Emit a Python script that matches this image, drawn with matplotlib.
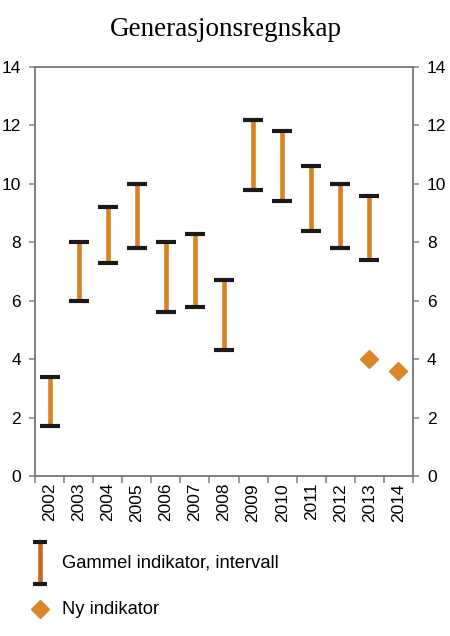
import matplotlib
matplotlib.use("Agg")
import matplotlib.pyplot as plt
import numpy as np

years = ["2002", "2003", "2004", "2005", "2006", "2007", "2008",
         "2009", "2010", "2011", "2012", "2013", "2014"]
old_low = [1.7, 6.0, 7.3, 7.8, 5.6, 5.8, 4.3, 9.8, 9.4, 8.4, 7.8, 7.4]
old_high = [3.4, 8.0, 9.2, 10.0, 8.0, 8.3, 6.7, 12.2, 11.8, 10.6, 10.0, 9.6]
new_years = ["2013", "2014"]
new_vals = [4.0, 3.6]
yticks = [0, 2, 4, 6, 8, 10, 12, 14]

BAR = "#d9831f"
BAR_LEG = "#c8651e"
DIAM = "#d8872a"
CAP = "#1a1a1a"
SPINE = "#808080"
SANS = "Liberation Sans"

W, H = 450, 636
fig = plt.figure(figsize=(W / 100, H / 100), dpi=100)
ax = fig.add_axes([35 / W, 1 - 476 / H, (413 - 35) / W, (476 - 67) / H])

xpos = {y: i for i, y in enumerate(years)}
xo = np.array([xpos[y] for y in years[:len(old_low)]])
ax.vlines(xo, old_low, old_high, color=BAR, lw=3.3, zorder=2)
for arr in (old_low, old_high):
    ax.plot(xo, arr, ls="none", marker="_", ms=14, mew=3.0, color=CAP, zorder=3)
xn = [xpos[y] for y in new_years]
ax.plot(xn, new_vals, ls="none", marker="D", ms=9.2, color=DIAM, zorder=3)

ax.set_xlim(-0.5, len(years) - 0.5)
ax.set_ylim(0, 14)
ax.set_yticks(yticks)
ax.set_xticks(range(len(years)))
ax.set_xticklabels(years, rotation=90, fontsize=12.5, family=SANS)
ax.set_xticks(np.arange(-0.5, len(years) + 0.5, 1), minor=True)
ax.tick_params(axis="x", which="major", length=0, pad=5)
ax.tick_params(axis="x", which="minor", length=5, width=1.1, color=SPINE,
               direction="out")
ax.tick_params(axis="y", length=4, width=1.1, color=SPINE, direction="out",
               labelsize=12.5, pad=6)
for lab in ax.get_yticklabels():
    lab.set_family(SANS)
for s in ax.spines.values():
    s.set_color(SPINE)
    s.set_linewidth(1.2)

ax2 = ax.twinx()
ax2.set_ylim(0, 14)
ax2.set_yticks(yticks)
ax2.tick_params(axis="y", length=4, width=1.1, color=SPINE, direction="out",
                labelsize=12.5, pad=6)
for lab in ax2.get_yticklabels():
    lab.set_family(SANS)
for s in ax2.spines.values():
    s.set_color(SPINE)
    s.set_linewidth(1.2)

fig.text(226 / W, 1 - 29 / H, "Generasjonsregnskap", ha="center", va="center",
         fontsize=19.5, family="Liberation Serif")

# legend drawn in pixel coordinates below the plot
lg = fig.add_axes([0, 0, 1, 110 / H])
lg.set_xlim(0, W)
lg.set_ylim(110, 0)
lg.axis("off")
lg.vlines(39.5, 542 - 526, 584 - 526, color=BAR_LEG, lw=3.3)
lg.plot([39.5, 39.5], [542 - 526, 584 - 526], ls="none", marker="_", ms=10,
        mew=3.0, color=CAP)
lg.text(62, 563 - 526, "Gammel indikator, intervall", va="center",
        fontsize=13.2, family=SANS)
lg.plot([39.5], [609 - 526], ls="none", marker="D", ms=9.2, color=DIAM)
lg.text(62, 609 - 526, "Ny indikator", va="center", fontsize=13.2, family=SANS)

fig.savefig("out.png", dpi=100)
